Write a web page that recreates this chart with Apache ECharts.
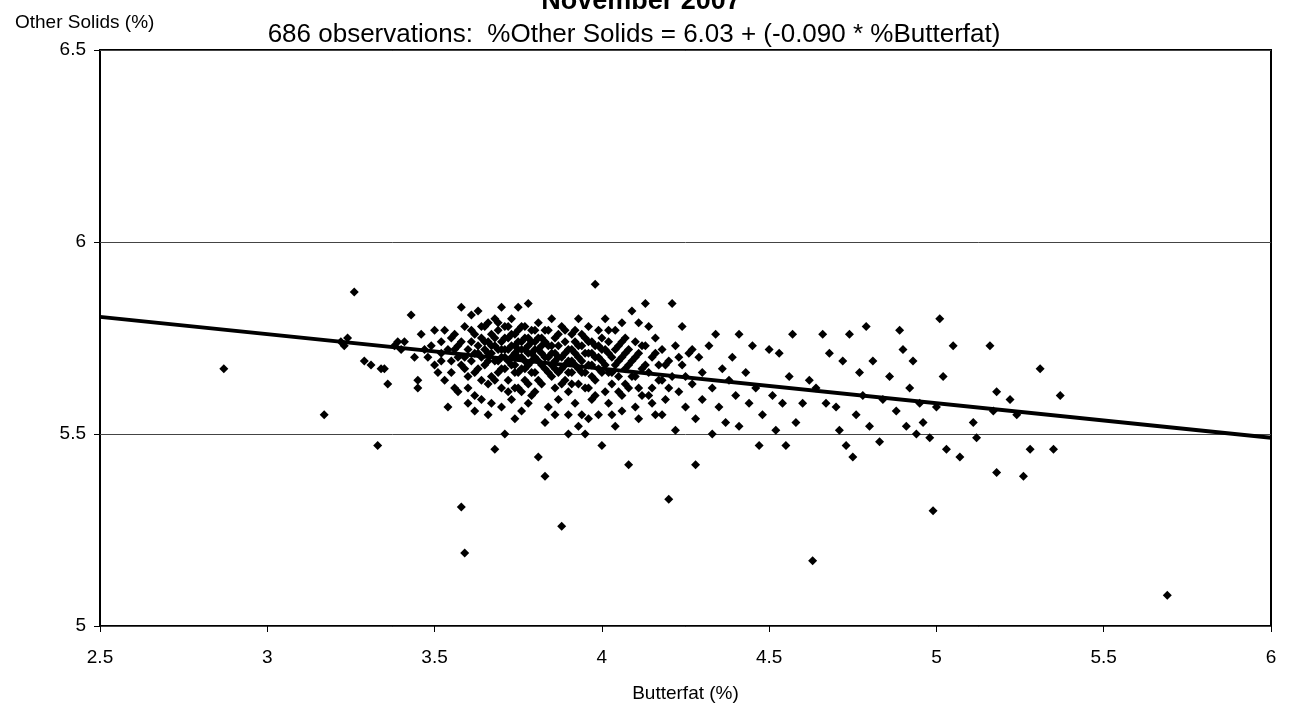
<!DOCTYPE html>
<html><head><meta charset="utf-8">
<script src="https://cdn.jsdelivr.net/npm/echarts@6/dist/echarts.min.js"></script>
<style>html,body{margin:0;padding:0;background:#fff}#chart{width:1290px;height:708px}</style>
</head><body><div id="chart"></div>
<script>
var titleText = "November 2007";
var subText = "686 observations:  %Other Solids = 6.03 + (-0.090 * %Butterfat)";
var xTicks = [2.5, 3, 3.5, 4, 4.5, 5, 5.5, 6];
var yTicks = [5, 5.5, 6, 6.5];
var fitIntercept = 6.03;
var fitSlope = -0.09;

// observations [butterfat, other solids]
var points = [
 [2.87,5.67],[3.17,5.55],[3.22,5.74],[3.23,5.73],[3.24,5.75],[3.26,5.87],[3.29,5.69],[3.31,5.68],[3.33,5.47],[3.34,5.67],[3.35,5.67],[3.36,5.63],
 [3.38,5.73],[3.39,5.74],[3.40,5.72],[3.41,5.74],[3.43,5.81],[3.44,5.70],[3.45,5.62],[3.45,5.64],[3.46,5.76],[3.47,5.72],[3.48,5.70],[3.49,5.73],
 [3.50,5.68],[3.50,5.77],[3.51,5.66],[3.52,5.74],[3.52,5.71],[3.53,5.77],[3.53,5.64],[3.54,5.57],[3.55,5.75],[3.55,5.69],[3.56,5.72],[3.56,5.76],
 [3.57,5.70],[3.57,5.61],[3.58,5.31],[3.58,5.74],[3.58,5.83],[3.59,5.19],[3.59,5.67],[3.59,5.78],[3.60,5.72],[3.60,5.65],[3.60,5.62],[3.61,5.81],
 [3.61,5.69],[3.61,5.74],[3.62,5.76],[3.62,5.71],[3.62,5.60],[3.63,5.82],[3.63,5.73],[3.63,5.67],[3.64,5.75],[3.64,5.70],[3.64,5.64],[3.65,5.78],
 [3.65,5.72],[3.65,5.68],[3.66,5.74],[3.66,5.69],[3.66,5.79],[3.67,5.76],[3.67,5.71],[3.67,5.65],[3.67,5.58],[3.68,5.80],[3.68,5.73],[3.68,5.69],
 [3.68,5.46],[3.69,5.77],[3.69,5.72],[3.69,5.66],[3.70,5.83],[3.70,5.74],[3.70,5.70],[3.70,5.62],[3.71,5.78],[3.71,5.72],[3.71,5.67],[3.71,5.50],
 [3.72,5.75],[3.72,5.69],[3.72,5.64],[3.73,5.80],[3.73,5.73],[3.73,5.68],[3.73,5.59],[3.74,5.76],[3.74,5.71],[3.74,5.66],[3.75,5.83],[3.75,5.74],
 [3.75,5.70],[3.75,5.62],[3.76,5.78],[3.76,5.72],[3.76,5.67],[3.76,5.56],[3.77,5.75],[3.77,5.69],[3.77,5.64],[3.78,5.84],[3.78,5.73],[3.78,5.68],
 [3.78,5.58],[3.79,5.77],[3.79,5.71],[3.79,5.66],[3.80,5.74],[3.80,5.70],[3.80,5.61],[3.81,5.79],[3.81,5.72],[3.81,5.44],[3.82,5.68],[3.82,5.75],
 [3.82,5.63],[3.83,5.70],[3.83,5.39],[3.83,5.77],[3.84,5.73],[3.84,5.66],[3.84,5.57],[3.85,5.80],[3.85,5.71],[3.85,5.68],[3.86,5.75],[3.86,5.62],
 [3.86,5.69],[3.87,5.73],[3.87,5.66],[3.87,5.59],[3.88,5.26],[3.88,5.78],[3.88,5.70],[3.89,5.74],[3.89,5.64],[3.89,5.68],[3.90,5.72],[3.90,5.50],
 [3.90,5.61],[3.91,5.76],[3.91,5.69],[3.91,5.66],[3.92,5.71],[3.92,5.58],[3.92,5.74],[3.93,5.67],[3.93,5.80],[3.93,5.63],[3.94,5.73],[3.94,5.55],
 [3.94,5.69],[3.95,5.75],[3.95,5.66],[3.95,5.50],[3.96,5.71],[3.96,5.62],[3.96,5.78],[3.97,5.68],[3.97,5.74],[3.97,5.59],[3.98,5.89],[3.98,5.70],
 [3.98,5.64],[3.99,5.73],[3.99,5.55],[3.99,5.67],[4.00,5.47],[4.00,5.75],[4.00,5.69],[4.01,5.61],[4.01,5.72],[4.01,5.80],[4.02,5.66],[4.02,5.58],
 [4.02,5.74],[4.03,5.70],[4.03,5.63],[4.04,5.77],[4.04,5.68],[4.04,5.52],[4.05,5.73],[4.05,5.65],[4.06,5.79],[4.06,5.70],[4.06,5.60],[4.07,5.75],
 [4.07,5.67],[4.08,5.42],[4.08,5.72],[4.08,5.62],[4.09,5.82],[4.09,5.69],[4.10,5.74],[4.10,5.65],[4.10,5.57],[4.11,5.71],[4.11,5.79],[4.12,5.67],
 [4.12,5.60],[4.13,5.84],[4.13,5.73],[4.14,5.66],[4.14,5.78],[4.15,5.62],[4.15,5.70],[4.16,5.55],[4.16,5.75],[4.17,5.68],[4.18,5.64],[4.18,5.72],
 [4.19,5.59],[4.20,5.33],[4.20,5.69],[4.21,5.84],[4.21,5.65],[4.22,5.51],[4.22,5.73],[4.23,5.61],[4.24,5.78],[4.24,5.68],[4.25,5.57],[4.26,5.71],
 [4.27,5.63],[4.28,5.42],[4.28,5.54],[4.29,5.70],[4.30,5.66],[4.30,5.59],[4.32,5.73],[4.33,5.50],[4.33,5.62],[4.34,5.76],[4.35,5.57],[4.36,5.67],
 [4.37,5.53],[4.38,5.64],[4.39,5.70],[4.40,5.60],[4.41,5.76],[4.41,5.52],[4.43,5.66],[4.44,5.58],[4.45,5.73],[4.46,5.62],[4.47,5.47],[4.48,5.55],
 [4.50,5.72],[4.51,5.60],[4.52,5.51],[4.53,5.71],[4.54,5.58],[4.55,5.47],[4.56,5.65],[4.57,5.76],[4.58,5.53],[4.60,5.58],[4.62,5.64],[4.63,5.17],
 [4.64,5.62],[4.66,5.76],[4.67,5.58],[4.68,5.71],[4.70,5.57],[4.71,5.51],[4.72,5.69],[4.73,5.47],[4.74,5.76],[4.75,5.44],[4.76,5.55],[4.77,5.66],
 [4.78,5.60],[4.79,5.78],[4.80,5.52],[4.81,5.69],[4.83,5.48],[4.84,5.59],[4.86,5.65],[4.88,5.56],[4.89,5.77],[4.90,5.72],[4.91,5.52],[4.92,5.62],
 [4.93,5.69],[4.94,5.50],[4.95,5.58],[4.96,5.53],[4.98,5.49],[4.99,5.30],[5.00,5.57],[5.01,5.80],[5.02,5.65],[5.03,5.46],[5.05,5.73],[5.07,5.44],
 [5.11,5.53],[5.12,5.49],[5.16,5.73],[5.17,5.56],[5.18,5.40],[5.18,5.61],[5.22,5.59],[5.24,5.55],[5.26,5.39],[5.28,5.46],[5.31,5.67],[5.35,5.46],
 [5.37,5.60],[5.69,5.08],
 [3.57,5.73],[3.59,5.70],[3.61,5.77],[3.62,5.66],[3.63,5.71],[3.64,5.78],[3.65,5.74],[3.66,5.71],[3.66,5.63],[3.67,5.73],[3.68,5.75],[3.68,5.64],
 [3.69,5.69],[3.69,5.79],[3.70,5.72],[3.70,5.67],[3.71,5.75],[3.71,5.70],[3.72,5.72],[3.72,5.78],[3.72,5.61],[3.73,5.70],[3.73,5.76],[3.74,5.73],
 [3.74,5.68],[3.74,5.62],[3.75,5.72],[3.75,5.77],[3.75,5.66],[3.76,5.70],[3.76,5.74],[3.76,5.61],[3.77,5.72],[3.77,5.78],[3.77,5.67],[3.78,5.71],
 [3.78,5.75],[3.78,5.63],[3.79,5.69],[3.79,5.74],[3.80,5.72],[3.80,5.66],[3.80,5.77],[3.81,5.69],[3.81,5.75],[3.81,5.64],[3.82,5.71],[3.82,5.73],
 [3.83,5.67],[3.83,5.74],[3.84,5.70],[3.84,5.77],[3.85,5.65],[3.85,5.73],[3.86,5.71],[3.86,5.67],[3.87,5.70],[3.87,5.76],[3.88,5.67],[3.88,5.63],
 [3.89,5.71],[3.89,5.77],[3.90,5.69],[3.90,5.66],[3.91,5.72],[3.91,5.63],[3.92,5.68],[3.92,5.77],[3.93,5.70],[3.93,5.73],[3.94,5.66],[3.94,5.76],
 [3.95,5.71],[3.95,5.62],[3.96,5.68],[3.96,5.74],[3.97,5.65],[3.97,5.71],[3.98,5.73],[3.98,5.60],[3.99,5.70],[3.99,5.77],[4.00,5.66],[4.00,5.72],
 [4.01,5.68],[4.02,5.71],[4.02,5.77],[4.03,5.66],[4.04,5.72],[4.05,5.69],[4.05,5.61],[4.06,5.74],[4.07,5.71],[4.07,5.63],[4.08,5.68],[4.09,5.65],
 [4.10,5.70],[4.11,5.62],[4.12,5.73],[4.13,5.68],[4.14,5.60],[4.16,5.71],[4.17,5.64],[4.19,5.68],[4.20,5.62],[4.23,5.70],[4.25,5.65],[4.27,5.72],
 [3.52,5.69],[3.54,5.72],[3.55,5.66],[3.56,5.62],[3.58,5.68],[3.60,5.58],[3.62,5.56],[3.64,5.59],[3.66,5.55],[3.70,5.57],[3.74,5.54],[3.79,5.60],
 [3.83,5.53],[3.86,5.55],[3.90,5.55],[3.93,5.52],[3.96,5.54],[4.03,5.55],[4.06,5.56],[4.11,5.54],[4.15,5.58],[4.18,5.55]
];

var fitLine = [
 [xTicks[0], fitIntercept + fitSlope * xTicks[0]],
 [xTicks[xTicks.length - 1], fitIntercept + fitSlope * xTicks[xTicks.length - 1]]
];

var chart = echarts.init(document.getElementById('chart'));
var font = 'Liberation Sans, Arial, sans-serif';
chart.setOption({
    animation: false,
    textStyle: {fontFamily: font},
    title: [
        {text: titleText, left: 636, top: -17, textAlign: 'center', textStyle: {fontSize: 27, fontWeight: 'bold', color: '#000', fontFamily: font}},
        {text: subText, left: 629, top: 17, textAlign: 'center', textStyle: {fontSize: 26, fontWeight: 'normal', color: '#000', fontFamily: font}},
        {text: 'Other Solids (%)', left: 10, top: 8, textStyle: {fontSize: 19, fontWeight: 'normal', color: '#000', fontFamily: font}}
    ],
    grid: {left: 100, right: 19, top: 50, bottom: 80, show: true, borderColor: '#000', borderWidth: 2},
    xAxis: {
        type: 'value', min: 2.5, max: 6, interval: 0.5,
        name: 'Butterfat (%)', nameLocation: 'middle', nameGap: 58,
        nameTextStyle: {fontSize: 19, color: '#000'},
        axisLine: {show: false},
        axisTick: {show: true, length: 6, lineStyle: {color: '#000'}},
        axisLabel: {fontSize: 19, color: '#000', margin: 22},
        splitLine: {show: false}
    },
    yAxis: {
        type: 'value', min: 5, max: 6.5, interval: 0.5,
        axisLine: {show: false},
        axisTick: {show: true, length: 6, lineStyle: {color: '#000'}},
        axisLabel: {fontSize: 19, color: '#000', margin: 14},
        splitLine: {show: true, lineStyle: {color: '#444', width: 1}}
    },
    series: [
        {type: 'scatter', data: points, symbol: 'diamond', symbolSize: 9, itemStyle: {color: '#000', opacity: 1}, z: 3},
        {type: 'line', data: fitLine, symbol: 'none', lineStyle: {color: '#000', width: 4}, z: 4}
    ]
});
</script></body></html>
